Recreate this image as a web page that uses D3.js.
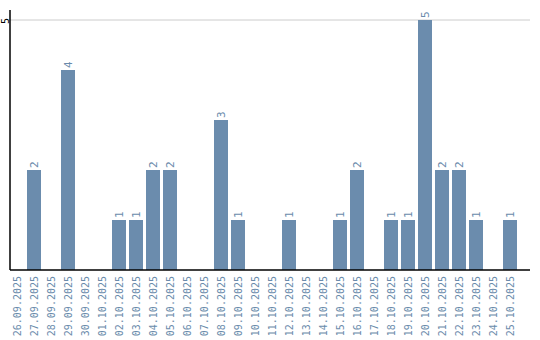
<!DOCTYPE html>
<html>
<head>
<meta charset="utf-8">
<script src="https://cdn.jsdelivr.net/npm/d3@7"></script>
<style>
  body { margin: 0; background: #fff; }
</style>
</head>
<body>
<div id="chart"></div>
<script>
var dates = ["26.09.2025","27.09.2025","28.09.2025","29.09.2025","30.09.2025","01.10.2025",
  "02.10.2025","03.10.2025","04.10.2025","05.10.2025","06.10.2025","07.10.2025","08.10.2025",
  "09.10.2025","10.10.2025","11.10.2025","12.10.2025","13.10.2025","14.10.2025","15.10.2025",
  "16.10.2025","17.10.2025","18.10.2025","19.10.2025","20.10.2025","21.10.2025","22.10.2025",
  "23.10.2025","24.10.2025","25.10.2025"];
var counts = [0,2,0,4,0,0,1,1,2,2,0,0,3,1,0,0,1,0,0,1,2,0,1,1,5,2,2,1,0,1];
var yTicks = [5];

var width = 540, height = 340;
var barColor = "#6b8cad";
var textColor = "#6a8bab";

var data = dates.map(function(d, i) { return {date: d, value: counts[i]}; });

var svg = d3.select("#chart").append("svg")
  .attr("width", width)
  .attr("height", height);

var x = d3.scaleBand()
  .domain(dates)
  .range([10, 520])
  .padding(0);

var y = d3.scaleLinear()
  .domain([0, 5])
  .range([270, 20]);

// gridline
svg.selectAll("line.grid")
  .data(yTicks)
  .enter()
  .append("line")
  .attr("class", "grid")
  .attr("x1", 10)
  .attr("x2", 530)
  .attr("y1", function(d) { return y(d); })
  .attr("y2", function(d) { return y(d); })
  .style("stroke", "#cccccc")
  .style("stroke-width", 1);

// bars
var barW = x.bandwidth() - 3;
svg.selectAll("rect.bar")
  .data(data.filter(function(d) { return d.value > 0; }))
  .enter()
  .append("rect")
  .attr("class", "bar")
  .attr("x", function(d) { return x(d.date); })
  .attr("y", function(d) { return y(d.value); })
  .attr("width", barW)
  .attr("height", function(d) { return y(0) - y(d.value); })
  .style("fill", barColor);

// value labels
svg.selectAll("text.val")
  .data(data.filter(function(d) { return d.value > 0; }))
  .enter()
  .append("text")
  .attr("class", "val")
  .attr("transform", function(d) {
    return "translate(" + (x(d.date) + barW / 2 + 4) + "," + (y(d.value) - 2) + ") rotate(-90)";
  })
  .style("font-family", "DejaVu Sans Mono")
  .style("font-size", "11px")
  .style("fill", textColor)
  .text(function(d) { return d.value; });

// x tick labels
svg.selectAll("text.xlab")
  .data(dates)
  .enter()
  .append("text")
  .attr("class", "xlab")
  .attr("transform", function(d) {
    return "translate(" + (x(d) + barW / 2 + 3.5) + ",276) rotate(-90)";
  })
  .attr("text-anchor", "end")
  .style("font-family", "DejaVu Sans Mono")
  .style("font-size", "10px")
  .style("fill", textColor)
  .text(function(d) { return d; });

// y tick label
svg.selectAll("text.ylab")
  .data(yTicks)
  .enter()
  .append("text")
  .attr("class", "ylab")
  .attr("transform", function(d) { return "translate(8.5," + (y(d) + 1) + ") rotate(-90)"; })
  .attr("text-anchor", "middle")
  .style("font-family", "DejaVu Sans Mono")
  .style("font-size", "10px")
  .style("fill", "#000")
  .text(function(d) { return d; });

// axes lines
svg.append("line")
  .attr("x1", 10).attr("x2", 10)
  .attr("y1", 10).attr("y2", 270)
  .style("stroke", "#000").style("stroke-width", 1.5);
svg.append("line")
  .attr("x1", 10).attr("x2", 530)
  .attr("y1", 270).attr("y2", 270)
  .style("stroke", "#000").style("stroke-width", 1.5);
</script>
</body>
</html>
